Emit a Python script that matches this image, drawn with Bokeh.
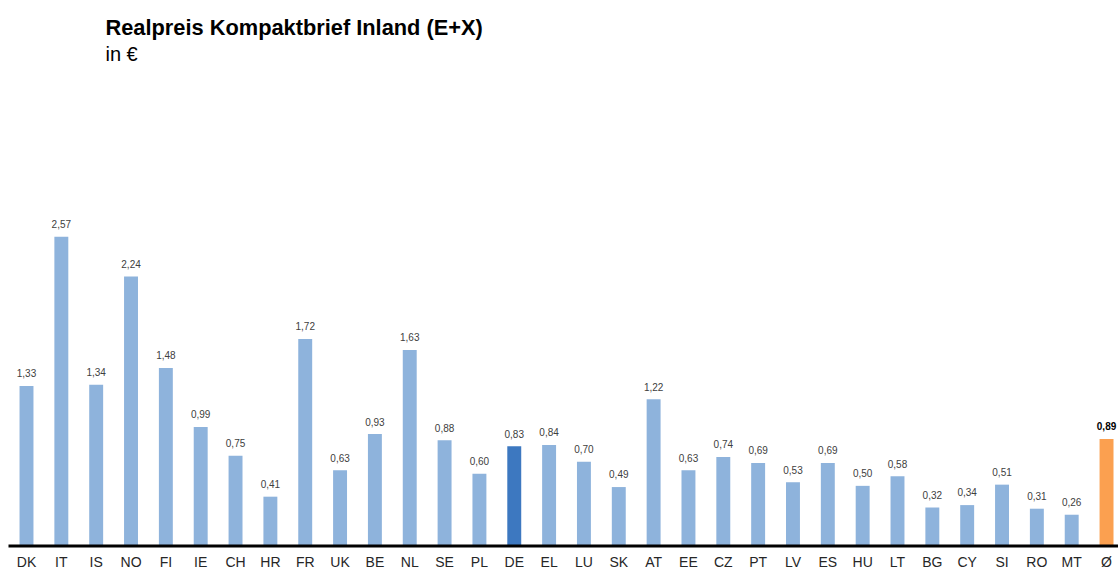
from bokeh.plotting import figure
from bokeh.models import ColumnDataSource, Range1d, Label
from bokeh.core.properties import value
from bokeh.embed import file_html
from bokeh.resources import INLINE

categories = ["DK", "IT", "IS", "NO", "FI", "IE", "CH", "HR", "FR", "UK", "BE", "NL", "SE", "PL",
              "DE", "EL", "LU", "SK", "AT", "EE", "CZ", "PT", "LV", "ES", "HU", "LT", "BG", "CY",
              "SI", "RO", "MT", "Ø"]
prices = [1.33, 2.57, 1.34, 2.24, 1.48, 0.99, 0.75, 0.41, 1.72, 0.63, 0.93, 1.63, 0.88, 0.60,
          0.83, 0.84, 0.70, 0.49, 1.22, 0.63, 0.74, 0.69, 0.53, 0.69, 0.50, 0.58, 0.32, 0.34,
          0.51, 0.31, 0.26, 0.89]
highlight_de = "DE"
average_cat = "Ø"

LIGHT = "#8EB3DC"
DARK = "#3D78C0"
ORANGE = "#FBA050"
FONT = "Liberation Sans"

W, H = 1118, 570
X0, DX = 26.0, 34.84          # pixel centre of first category, spacing
Y0, PPU = 545.5, 120.3        # pixel of zero line, pixels per euro

xs = list(range(len(categories)))
colors, styles, tcolors = [], [], []
for c in categories:
    if c == highlight_de:
        colors.append(DARK); styles.append("normal"); tcolors.append("#404040")
    elif c == average_cat:
        colors.append(ORANGE); styles.append("bold"); tcolors.append("#000000")
    else:
        colors.append(LIGHT); styles.append("normal"); tcolors.append("#404040")
labels = [f"{v:.2f}".replace(".", ",") for v in prices]
zeros = [0] * len(categories)

src = ColumnDataSource(dict(x=xs, top=prices, zero=zeros, color=colors, label=labels,
                            style=styles, tcolor=tcolors, cat=categories))

x_start = (0 - X0) / DX
x_end = (W - X0) / DX
y_start = -(H - Y0) / PPU
y_end = Y0 / PPU

p = figure(width=W, height=H, output_backend="svg", toolbar_location=None,
           x_range=Range1d(x_start, x_end), y_range=Range1d(y_start, y_end),
           x_axis_location=None, y_axis_location=None,
           min_border_left=0, min_border_right=0, min_border_top=0, min_border_bottom=0)
p.outline_line_color = None
p.xgrid.visible = False
p.ygrid.visible = False

p.vbar(x="x", top="top", width=0.40, bottom=0, fill_color="color", line_color=None, source=src)
p.text(x="x", y="top", text="label", source=src, text_align="center", text_baseline="alphabetic",
       y_offset=-12.6, text_font=value(FONT), text_font_size="10px", text_color="tcolor",
       text_font_style="style")

# baseline (x axis line) and category labels
p.segment(x0=[(8 - X0) / DX], y0=[0], x1=[x_end], y1=[0], line_color="black", line_width=3)
p.text(x="x", y="zero", text="cat", source=src, text_align="center", text_baseline="alphabetic",
       y_offset=15.5, text_font=value(FONT), text_font_size="14px", text_color="#262626")

def ydata(py):
    return (Y0 - py) / PPU

def xdata(px):
    return (px - X0) / DX

p.add_layout(Label(x=xdata(105), y=ydata(27), text="Realpreis Kompaktbrief Inland (E+X)",
                   text_font=FONT, text_font_size="21.8px", text_font_style="bold",
                   text_color="black", text_baseline="alphabetic"))
p.add_layout(Label(x=xdata(105), y=ydata(53.3), text="in €",
                   text_font=FONT, text_font_size="20px",
                   text_color="black", text_baseline="alphabetic"))

open("out.html", "w").write(file_html(p, INLINE))
